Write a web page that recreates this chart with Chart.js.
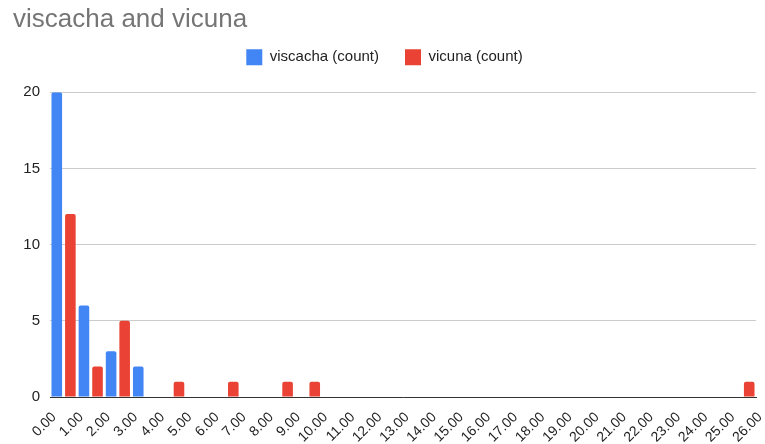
<!DOCTYPE html>
<html>
<head>
<meta charset="utf-8">
<script src="https://cdn.jsdelivr.net/npm/chart.js@4"></script>
<style>
  html, body { margin: 0; padding: 0; background: #fff; }
  #wrap { width: 765px; height: 444px; }
</style>
</head>
<body>
<div id="wrap"><canvas id="histChart"></canvas></div>
<script>
// bins start at 0, 1, 2, ... 25 (each one unit wide)
const bins = [0, 1, 2, 3, 4, 5, 6, 7, 8, 9, 10, 11, 12, 13, 14, 15, 16, 17, 18, 19, 20, 21, 22, 23, 24, 25];
const viscacha = [20, 6, 3, 2, 0, 0, 0, 0, 0, 0, 0, 0, 0, 0, 0, 0, 0, 0, 0, 0, 0, 0, 0, 0, 0, 0];
const vicuna = [12, 2, 5, 0, 1, 0, 1, 0, 1, 1, 0, 0, 0, 0, 0, 0, 0, 0, 0, 0, 0, 0, 0, 0, 0, 1];
const yTicks = [0, 5, 10, 15, 20];

const font = "'Liberation Sans', Arial, sans-serif";

// extra room under the legend, like the sheets chart
const legendGap = {
    id: 'legendGap',
    beforeLayout(chart) {
        const legend = chart.legend;
        if (legend && !legend._gapPatched) {
            const fit = legend.fit;
            legend.fit = function () {
                fit.call(this);
                this.height += 17;
            };
            legend._gapPatched = true;
        }
    },
};

const ctx = document.getElementById('histChart').getContext('2d');

new Chart(ctx, {
    type: 'bar',
    data: {
        datasets: [
            {
                label: 'viscacha (count)',
                backgroundColor: '#4285F4',
                data: bins.map((b, i) => ({ x: b + 0.5, y: viscacha[i] })),
            },
            {
                label: 'vicuna (count)',
                backgroundColor: '#EA4335',
                data: bins.map((b, i) => ({ x: b + 0.5, y: vicuna[i] })),
            },
        ],
    },
    plugins: [legendGap],
    options: {
        responsive: true,
        maintainAspectRatio: false,
        animation: false,
        layout: {
            padding: { left: 13, right: 9, top: 0, bottom: 0 },
        },
        datasets: {
            bar: {
                categoryPercentage: 1,
                barPercentage: 0.78,
                borderRadius: 2,
            },
        },
        plugins: {
            title: {
                display: true,
                text: 'viscacha and vicuna',
                align: 'start',
                color: '#757575',
                font: { family: font, size: 26, weight: 'normal' },
                padding: { top: 4, bottom: -12 },
            },
            legend: {
                position: 'top',
                labels: {
                    color: '#222',
                    font: { family: font, size: 15 },
                    boxWidth: 16,
                    boxHeight: 16,
                    padding: 26,
                },
            },
            tooltip: { enabled: false },
        },
        scales: {
            x: {
                type: 'linear',
                min: 0,
                max: bins.length,
                offset: false,
                afterFit: (axis) => {
                    axis.height = 47;
                    axis.paddingRight = 0;
                    axis.paddingLeft = 0;
                },
                grid: { display: false },
                border: { display: true, color: '#333', width: 1 },
                ticks: {
                    stepSize: 1,
                    autoSkip: false,
                    maxRotation: 45,
                    minRotation: 45,
                    color: '#222',
                    font: { family: font, size: 14 },
                    padding: 4,
                    labelOffset: 4,
                    callback: (v) => v.toFixed(2),
                },
            },
            y: {
                min: 0,
                max: 20,
                afterBuildTicks: (axis) => { axis.ticks = yTicks.map(v => ({ value: v })); },
                afterFit: (axis) => { axis.width = 37; },
                grid: { color: '#ccc', drawTicks: false },
                border: { display: false },
                ticks: {
                    color: '#222',
                    font: { family: font, size: 15 },
                    padding: 10,
                },
            },
        },
    },
});
</script>
</body>
</html>
